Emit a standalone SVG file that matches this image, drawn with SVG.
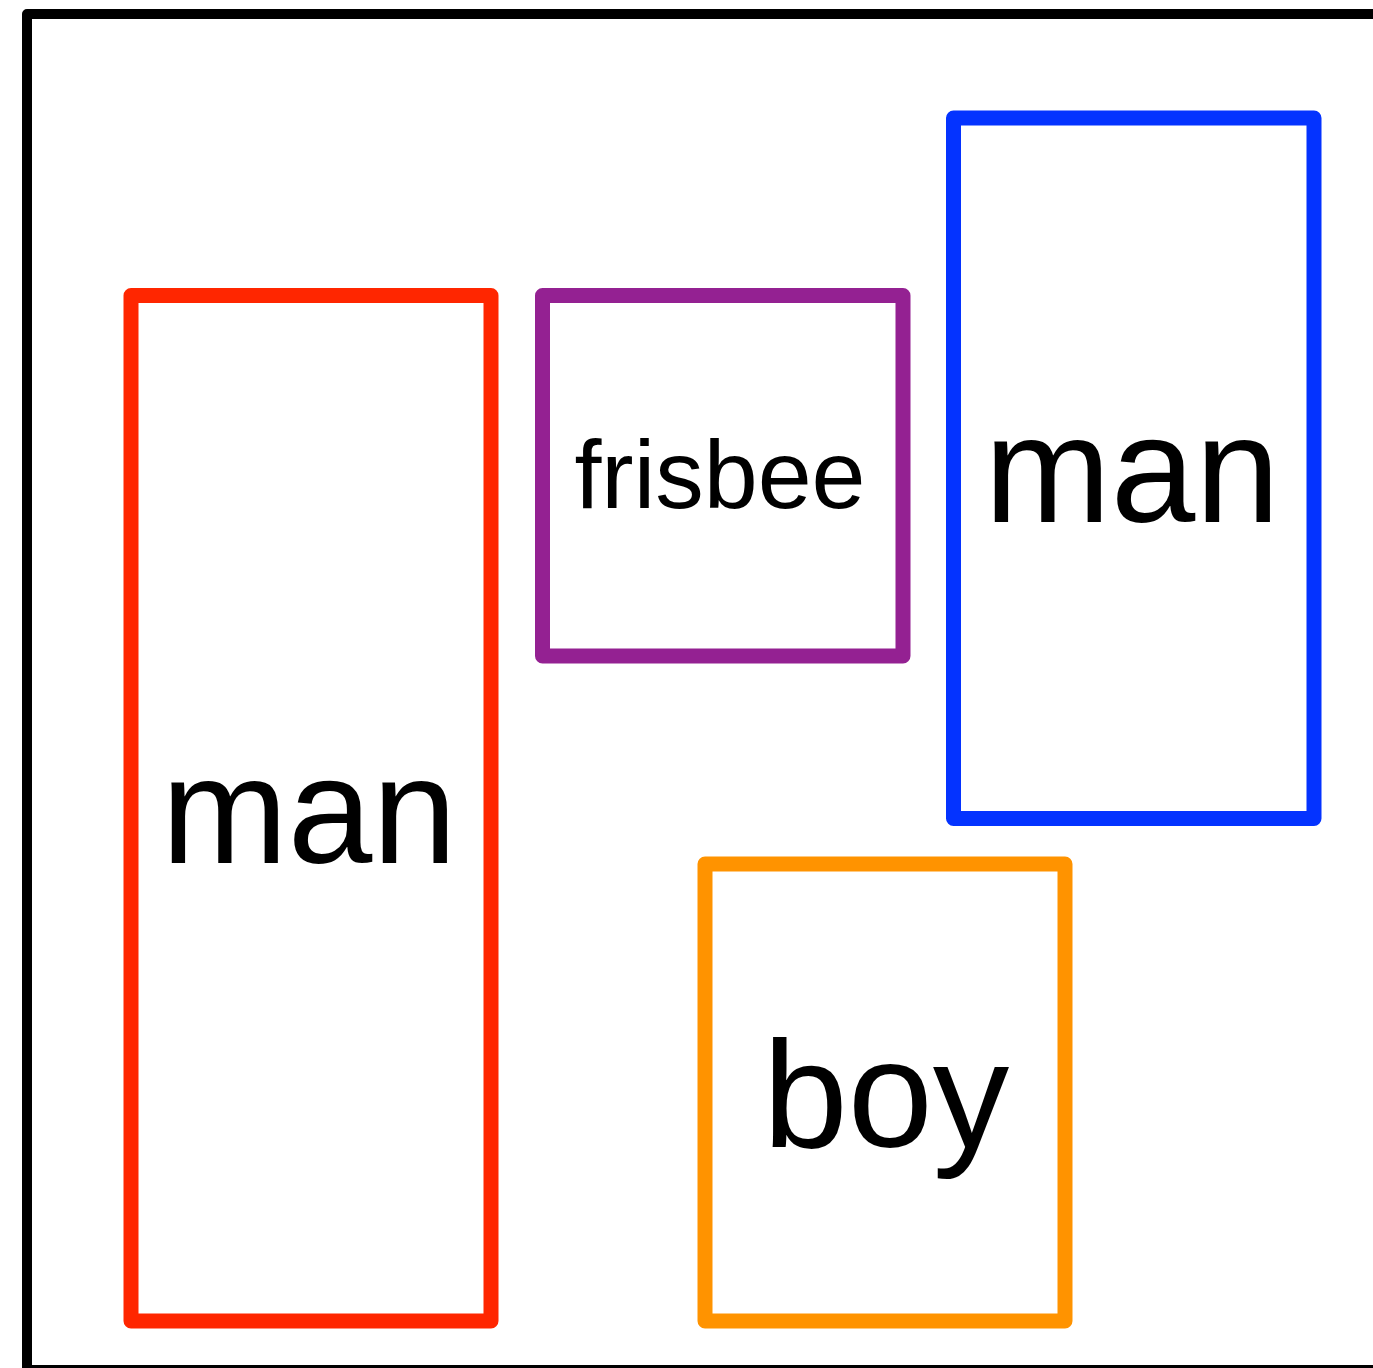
<svg xmlns="http://www.w3.org/2000/svg" width="1373" height="1368" viewBox="0 0 1373 1368">
<style>
.box{fill:none;stroke-width:15;stroke-linejoin:round}
.lbl{font-family:"Liberation Sans",Arial,sans-serif;fill:#000;text-anchor:middle}
</style>
<rect x="0" y="0" width="1373" height="1368" fill="#fff"/>
<rect x="27" y="14" width="1360" height="1356" fill="none" stroke="#000" stroke-width="10" stroke-linejoin="round"/>
<g id="node-man-red">
<rect class="box" x="131" y="295.5" width="360" height="1025.5" stroke="#ff2600"/>
<text class="lbl" x="309" y="863" font-size="152">man</text>
</g>
<g id="node-frisbee">
<rect class="box" x="542.5" y="295.5" width="360.5" height="360.5" stroke="#942192"/>
<text class="lbl" x="720" y="508" font-size="97">frisbee</text>
</g>
<g id="node-boy">
<rect class="box" x="705" y="864" width="360" height="457" stroke="#ff9300"/>
<text class="lbl" x="886" y="1147" font-size="153">boy</text>
</g>
<g id="node-man-blue">
<rect class="box" x="953.5" y="118" width="360.5" height="700.5" stroke="#0433ff"/>
<text class="lbl" x="1132" y="522" font-size="152">man</text>
</g>
<g id="connectors"></g>
</svg>
